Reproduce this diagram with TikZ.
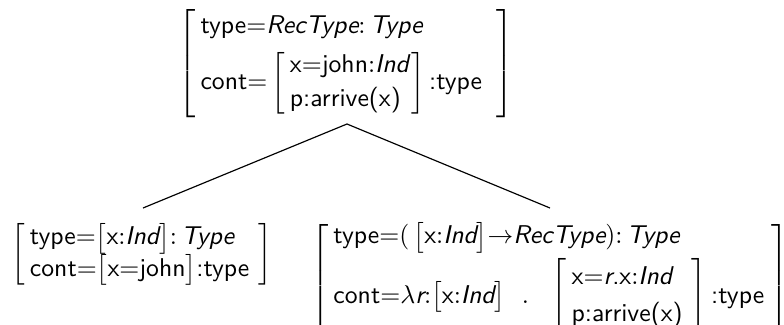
\documentclass[tikz,border=0pt,11pt]{standalone}
\usepackage{amsmath}
\newcommand{\sq}[1]{\bigl[#1\bigr]}
\begin{document}
\begin{tikzpicture}[x=0.426pt,y=-0.426pt,
  rec/.style={inner sep=0pt, font=\sffamily},
  edge/.style={draw, line width=0.5pt}]
\setlength{\arraycolsep}{2pt}
\useasboundingbox (0,0) rectangle (784,324);
\node[rec, anchor=north] (root) at (346,9) {$\left[\begin{array}{l@{\hspace{6pt}}}
\text{type}{=}\textit{RecType}{:}\,\textit{Type}\\[3pt]
\text{cont}{=}\left[\begin{array}{l@{\hspace{1pt}}}\text{x}{=}\text{john}{:}\textit{Ind}\\[1pt] \text{p:arrive(x)}\end{array}\right]\text{:type}
\end{array}\right]$};
\node[rec, anchor=north] (left) at (142,222) {$\left[\begin{array}{l@{\hspace{4pt}}}
\text{type}{=}\sq{\text{x}{:}\textit{Ind}}{:}\,\textit{Type}\\
\text{cont}{=}\sq{\text{x}{=}\text{john}}\text{:type}
\end{array}\right]$};
\node[rec, anchor=north] (right) at (550,221) {$\left[\begin{array}{l@{\hspace{3pt}}}
\text{type}{=}(\,\sq{\text{x}{:}\textit{Ind}}{\rightarrow}\textit{RecType}){:}\,\textit{Type}\\[2pt]
\text{cont}{=}\lambda\textit{r}{:}\sq{\text{x}{:}\textit{Ind}}\hspace{7pt}.\hspace{8pt}\left[\begin{array}{l@{\hspace{4pt}}}\text{x}{=}\textit{r}\text{.x}{:}\textit{Ind}\\[2pt] \text{p:arrive(x)}\end{array}\right]\text{:type}
\end{array}\right]$};
\coordinate (apex) at (347,124);
\coordinate (lend) at (143,208);
\coordinate (rend) at (550,208);
\draw[edge] (apex) -- (lend);
\draw[edge] (apex) -- (rend);
\end{tikzpicture}
\end{document}
